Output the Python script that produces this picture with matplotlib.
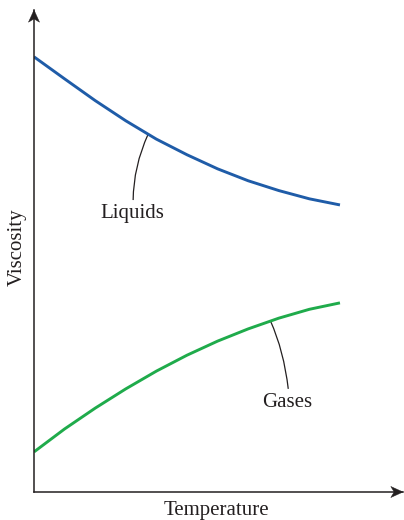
import numpy as np
import matplotlib
matplotlib.use("Agg")
import matplotlib.pyplot as plt
from matplotlib import transforms
from matplotlib.patches import Polygon, PathPatch
from matplotlib.path import Path

# Qualitative viscosity vs temperature (arbitrary units)
temperature = [0, 1, 2, 3, 4, 5, 6, 7, 8, 9, 10]
liquids = [14.22, 13.50, 12.79, 12.13, 11.53, 11.02, 10.56, 10.17, 9.85, 9.58, 9.38]
gases = [1.31, 2.06, 2.74, 3.37, 3.95, 4.47, 4.93, 5.33, 5.68, 5.97, 6.18]
series_labels = ["Liquids", "Gases"]
x_label = "Temperature"
y_label = "Viscosity"

plt.rcParams["font.family"] = ["Liberation Serif", "DejaVu Serif"]

ink = "#231f20"
blue = "#1f5ca8"
green = "#1fab4b"

fig = plt.figure(figsize=(4.04, 5.2), dpi=100)
W, H = 404, 520
ox, oy = 34, 492          # origin in pixels
tx, ty = 403, 10          # arrow tips in pixels
ax = fig.add_axes([ox / W, (H - oy) / H, (tx - ox) / W, (oy - ty) / H])
ax.set_xlim(0, 12.06)
ax.set_ylim(0, 15.75)
ax.set_xticks([])
ax.set_yticks([])
for side in ("top", "right"):
    ax.spines[side].set_visible(False)
for side in ("left", "bottom"):
    ax.spines[side].set_color(ink)
    ax.spines[side].set_linewidth(1.1)
    ax.spines[side].set_zorder(4)

# Curves
ax.plot(temperature, liquids, color=blue, lw=2.1, solid_capstyle="butt",
        solid_joinstyle="round", zorder=3)
ax.plot(temperature, gases, color=green, lw=2.1, solid_capstyle="butt",
        solid_joinstyle="round", zorder=3)

# Arrowheads on the axis ends (shape defined in points, pointing +x)
head = np.array([[0, 0], [-8.8, 4.0], [-6.4, 0], [-8.8, -4.0]])
pt = transforms.Affine2D().scale(1 / 72.0) + fig.dpi_scale_trans
for (axx, axy, ang) in [(1, 0, 0), (0, 1, 90)]:
    tr = (transforms.Affine2D().rotate_deg(ang) + pt
          + transforms.ScaledTranslation(axx, axy, ax.transAxes)
          - transforms.ScaledTranslation(0, 0, fig.dpi_scale_trans))
    ax.add_patch(Polygon(head, closed=True, facecolor=ink, edgecolor=ink,
                         lw=0.3, transform=tr, clip_on=False, zorder=5))


# Curved leader lines from each curve to its label
def leader(t0, series, ctrl, end):
    v0 = float(np.interp(t0, temperature, series))
    path = Path([(t0, v0), ctrl, end], [Path.MOVETO, Path.CURVE3, Path.CURVE3])
    ax.add_patch(PathPatch(path, facecolor="none", edgecolor=ink, lw=0.9, zorder=2))


leader(3.73, liquids, (3.25, 10.64), (3.24, 9.54))
leader(7.73, gases, (8.165, 4.62), (8.31, 3.37))

ax.text(3.22, 8.95, series_labels[0], ha="center", va="baseline", fontsize=15, color=ink)
ax.text(8.27, 2.78, series_labels[1], ha="center", va="baseline", fontsize=15, color=ink)

fig.text(216.7 / W, 1 - 515.0 / H, x_label, ha="center", va="baseline", fontsize=15, color=ink)
fig.text(17.5 / W, 1 - 247 / H, y_label, ha="center", va="center", rotation=90,
         fontsize=15, color=ink)

fig.savefig("out.png", dpi=100, facecolor="white")
